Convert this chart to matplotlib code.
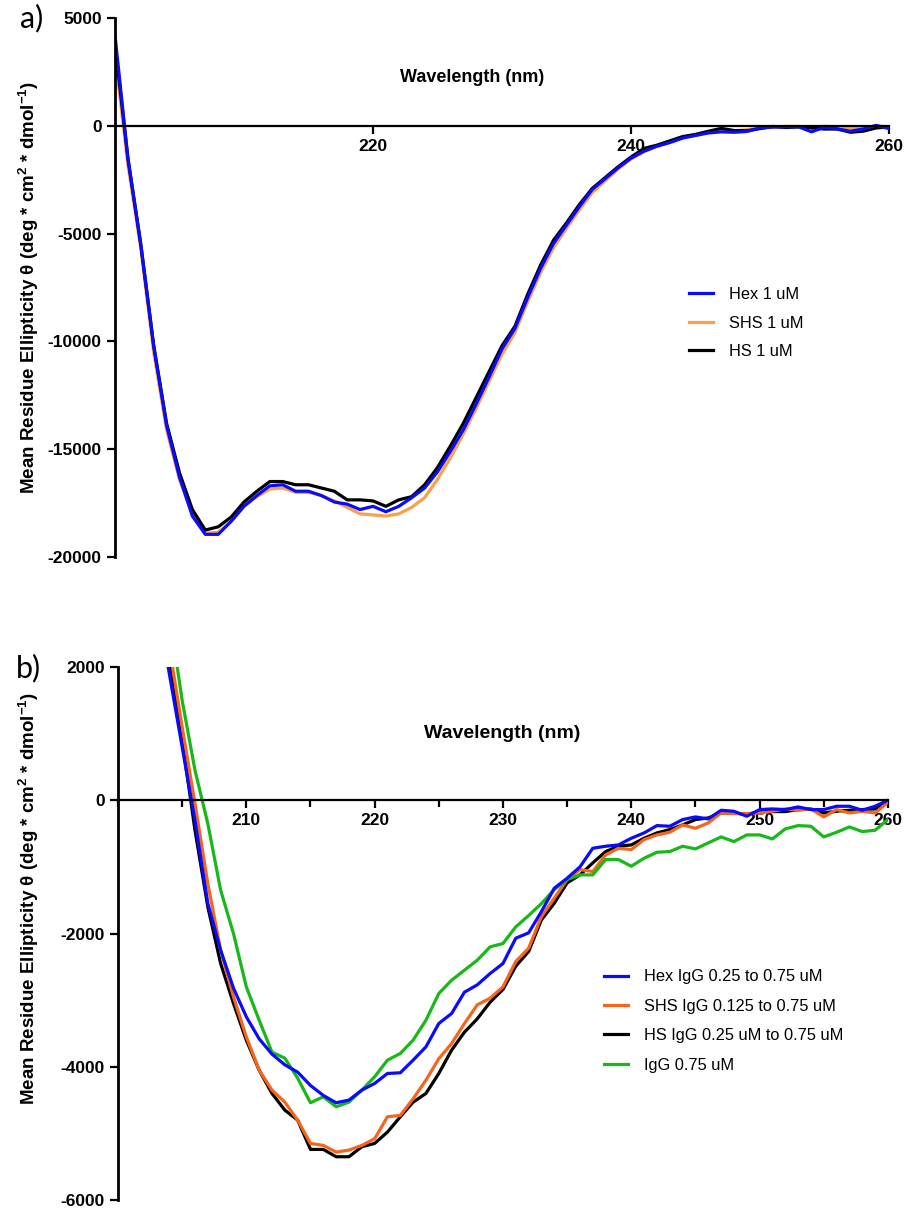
import matplotlib.pyplot as plt
from matplotlib.ticker import MultipleLocator

plt.rcParams["font.family"] = ["Liberation Sans", "DejaVu Sans"]
plt.rcParams["font.weight"] = "bold"
plt.rcParams["axes.unicode_minus"] = False
plt.rcParams["mathtext.fontset"] = "custom"
plt.rcParams["mathtext.bf"] = "Liberation Sans:bold"
plt.rcParams["mathtext.rm"] = "Liberation Sans:bold"
plt.rcParams["mathtext.default"] = "bf"

# a) free peptides, 1 nm steps 200-260
wl_a = list(range(200, 261))
hex_1um = [4200, -1500, -5500, -10200, -13900, -16300, -18100, -18950, -18950, -18350,
           -17650, -17150, -16700, -16650, -16950, -16950, -17150, -17450, -17550, -17800,
           -17650, -17900, -17650, -17250, -16800, -16050, -15100, -14100, -12900, -11650,
           -10350, -9400, -7950, -6600, -5450, -4600, -3750, -2950, -2450, -1950,
           -1500, -1180, -950, -780, -570, -450, -330, -280, -300, -260,
           -100, -60, -50, -50, -280, -60, -150, -250, -150, 20, -130]
shs_1um = [3300, -1800, -5700, -10500, -14100, -16400, -18000, -18900, -18850, -18350,
           -17650, -17200, -16850, -16800, -17000, -17000, -17150, -17400, -17700, -18000,
           -18050, -18100, -18000, -17700, -17250, -16400, -15400, -14300, -13100, -11850,
           -10600, -9600, -8150, -6800, -5650, -4750, -3900, -3100, -2550, -2000,
           -1550, -1200, -950, -750, -550, -400, -300, -200, -230, -180,
           -100, -50, -30, -30, -80, -20, -60, -100, -120, 0, -60]
hs_1um = [3800, -1500, -5500, -10200, -13800, -16100, -17800, -18750, -18600, -18150,
          -17450, -16950, -16500, -16500, -16650, -16650, -16800, -16950, -17350, -17350,
          -17400, -17650, -17350, -17200, -16650, -15850, -14850, -13800, -12600, -11400,
          -10200, -9300, -7800, -6450, -5300, -4500, -3650, -2900, -2400, -1900,
          -1450, -1050, -900, -700, -500, -400, -250, -120, -220, -230,
          -130, -30, -80, -50, -100, -150, -150, -300, -250, -100, -50]

# b) peptides with IgG, 1 nm steps 203-260
wl_b = list(range(203, 261))
hex_igg = [3000, 1900, 800, -300, -1550, -2250, -2820, -3250, -3580, -3810,
           -3970, -4080, -4280, -4430, -4540, -4500, -4350, -4250, -4100, -4090,
           -3900, -3700, -3350, -3200, -2880, -2770, -2600, -2450, -2070, -1990,
           -1670, -1320, -1170, -1000, -720, -690, -670, -570, -490, -380,
           -390, -290, -250, -280, -150, -165, -240, -140, -130, -140,
           -100, -140, -140, -90, -90, -150, -90, 0]
shs_igg = [3400, 2300, 1100, -50, -1250, -2250, -2950, -3550, -4050, -4350,
           -4530, -4800, -5150, -5180, -5280, -5250, -5180, -5080, -4750, -4730,
           -4480, -4200, -3880, -3650, -3350, -3070, -2970, -2800, -2420, -2220,
           -1745, -1470, -1190, -1040, -1070, -820, -720, -740, -590, -520,
           -480, -370, -420, -340, -190, -200, -200, -190, -165, -130,
           -150, -130, -250, -140, -190, -165, -190, -30]
hs_igg = [3200, 2050, 900, -450, -1600, -2450, -3050, -3600, -4050, -4400,
          -4650, -4800, -5240, -5240, -5350, -5350, -5200, -5150, -4980, -4750,
          -4530, -4400, -4100, -3750, -3480, -3280, -3030, -2840, -2490, -2270,
          -1795, -1545, -1240, -1120, -940, -770, -690, -670, -570, -490,
          -440, -370, -290, -265, -190, -190, -215, -170, -170, -170,
          -140, -130, -190, -165, -150, -140, -130, -15]
igg_only = [4000, 2800, 1500, 450, -350, -1350, -2000, -2800, -3300, -3780,
            -3870, -4170, -4540, -4450, -4600, -4530, -4350, -4150, -3900, -3800,
            -3600, -3300, -2900, -2700, -2550, -2400, -2200, -2150, -1900, -1730,
            -1550, -1340, -1190, -1120, -1120, -890, -890, -990, -870, -780,
            -770, -690, -730, -640, -550, -620, -520, -520, -580, -430,
            -380, -390, -550, -480, -400, -470, -450, -290]

ylabel = "Mean Residue Ellipticity \u03b8 (deg * cm$^{2}$ * dmol$^{-1}$)"


def style_axes(ax):
    ax.spines["top"].set_visible(False)
    ax.spines["right"].set_visible(False)
    ax.spines["bottom"].set_position(("data", 0))
    ax.spines["left"].set_linewidth(2.0)
    ax.spines["bottom"].set_linewidth(1.6)
    ax.tick_params(which="both", direction="out", width=1.6, labelsize=12.5)
    ax.tick_params(which="major", length=6)
    ax.tick_params(which="minor", length=5)
    plt.setp(ax.get_xticklabels() + ax.get_yticklabels(), fontweight="bold")


fig = plt.figure(figsize=(9.09, 12.09), dpi=100)

# panel a
ax_a = fig.add_axes([0.1265, 0.5393, 0.8515, 0.4458])
ax_a.plot(wl_a, shs_1um, color="#f9a04a", lw=2.3, label="SHS 1 uM")
ax_a.plot(wl_a, hs_1um, color="black", lw=2.3, label="HS 1 uM")
ax_a.plot(wl_a, hex_1um, color="#0a0aff", lw=2.3, label="Hex 1 uM")
ax_a.set_xlim(200, 260)
ax_a.set_ylim(-20000, 5000)
ax_a.set_xticks([220, 240, 260])
ax_a.set_yticks([5000, 0, -5000, -10000, -15000, -20000])
style_axes(ax_a)
ax_a.text(0.461, 0.8905, "Wavelength (nm)", transform=ax_a.transAxes,
          ha="center", va="center", fontsize=13, fontweight="bold")
ax_a.set_ylabel(ylabel, fontsize=13.5, fontweight="bold")
ax_a.yaxis.set_label_coords(-0.096, 0.5)
h, l = ax_a.get_legend_handles_labels()
ax_a.legend([h[2], h[0], h[1]], [l[2], l[0], l[1]], loc="upper left",
            bbox_to_anchor=(0.722, 0.528), frameon=False,
            prop={"weight": "normal", "size": 11.8}, handlelength=1.5,
            handletextpad=0.95, labelspacing=0.82)

# panel b
ax_b = fig.add_axes([0.1298, 0.0074, 0.847, 0.4409])
ax_b.plot(wl_b, hs_igg, color="black", lw=2.3, label="HS IgG 0.25 uM to 0.75 uM")
ax_b.plot(wl_b, shs_igg, color="#f7641c", lw=2.3, label="SHS IgG 0.125 to 0.75 uM")
ax_b.plot(wl_b, igg_only, color="#17b817", lw=2.3, label="IgG 0.75 uM")
ax_b.plot(wl_b, hex_igg, color="#0a0aff", lw=2.3, label="Hex IgG 0.25 to 0.75 uM")
ax_b.set_xlim(200, 260)
ax_b.set_ylim(-6000, 2000)
ax_b.set_xticks([210, 220, 230, 240, 250, 260])
ax_b.xaxis.set_minor_locator(MultipleLocator(5))
ax_b.set_yticks([2000, 0, -2000, -4000, -6000])
style_axes(ax_b)
ax_b.text(0.4987, 0.876, "Wavelength (nm)", transform=ax_b.transAxes,
          ha="center", va="center", fontsize=14, fontweight="bold")
ax_b.set_ylabel(ylabel, fontsize=13.5, fontweight="bold")
ax_b.yaxis.set_label_coords(-0.1, 0.565)
h, l = ax_b.get_legend_handles_labels()
ax_b.legend([h[3], h[1], h[0], h[2]], [l[3], l[1], l[0], l[2]], loc="upper left",
            bbox_to_anchor=(0.6116, 0.4604), frameon=False,
            prop={"weight": "normal", "size": 11.8}, handlelength=1.5,
            handletextpad=0.95, labelspacing=0.88)

fig.text(0.022, 0.985, "a)", fontsize=22, fontweight="normal", family=["Lato", "DejaVu Sans"],
         va="center")
fig.text(0.018, 0.447, "b)", fontsize=22, fontweight="normal", family=["Lato", "DejaVu Sans"],
         va="center")

fig.savefig("out.png", dpi=100)
